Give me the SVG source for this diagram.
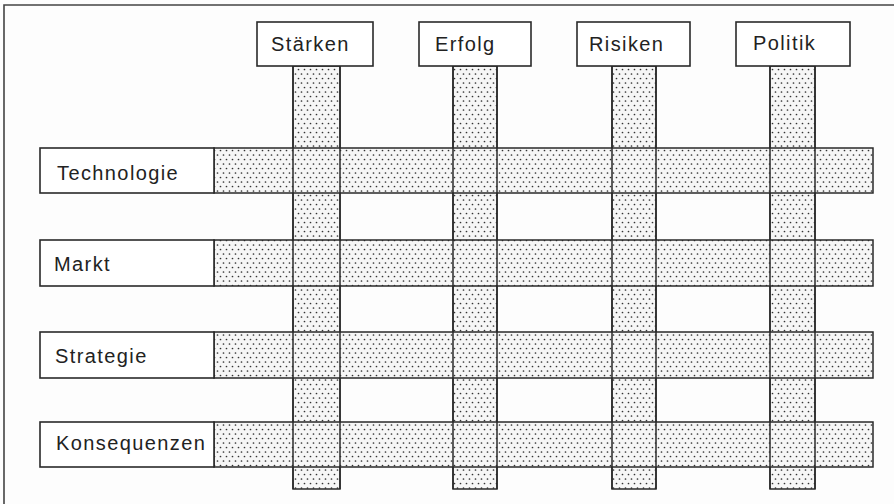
<svg xmlns="http://www.w3.org/2000/svg" width="894" height="504" viewBox="0 0 894 504">
<style>
.bg{fill:#fdfdfd}
.frame{stroke:#444;stroke-width:1.6;fill:none}
.box{fill:#fff;stroke:#2a2a2a;stroke-width:1.6}
.strip{fill:url(#dots);stroke:#2a2a2a;stroke-width:1.5}
.lbl{font-family:"Liberation Sans",Arial,sans-serif;font-size:20px;fill:#222;letter-spacing:1.4px}
</style>
<defs>
<pattern id="dots" width="6" height="9" patternUnits="userSpaceOnUse">
<rect width="6" height="9" fill="#f6f6f6"/>
<circle cx="1.5" cy="2" r="0.85" fill="#333"/>
<circle cx="4.5" cy="6.5" r="0.85" fill="#333"/>
</pattern>
</defs>
<rect class="bg" width="894" height="504"/>
<path class="frame" d="M4,504 V5 H894"/>
<g id="connectors">
<rect class="strip" x="293" y="66" width="47" height="423"/>
<rect class="strip" x="453" y="66" width="44" height="423"/>
<rect class="strip" x="612" y="66" width="44" height="423"/>
<rect class="strip" x="770" y="66" width="45" height="423"/>
<rect class="strip" x="214" y="148" width="659" height="45"/>
<rect class="strip" x="214" y="240" width="659" height="46"/>
<rect class="strip" x="214" y="332" width="659" height="46"/>
<rect class="strip" x="214" y="422" width="659" height="45"/>
<path d="M293,66 V489 M340,66 V489 M453,66 V489 M497,66 V489 M612,66 V489 M656,66 V489 M770,66 V489 M815,66 V489" stroke="#2a2a2a" stroke-width="1.5" fill="none"/>
</g>
<g id="col-staerken"><rect class="box" x="257" y="22" width="116" height="44"/><text class="lbl" x="271" y="51">Stärken</text></g>
<g id="col-erfolg"><rect class="box" x="419" y="22" width="112" height="44"/><text class="lbl" x="435" y="51">Erfolg</text></g>
<g id="col-risiken"><rect class="box" x="577" y="22" width="113" height="44"/><text class="lbl" x="589" y="51">Risiken</text></g>
<g id="col-politik"><rect class="box" x="736" y="22" width="114" height="44"/><text class="lbl" x="753" y="50">Politik</text></g>
<g id="row-technologie"><rect class="box" x="40" y="148" width="174" height="45"/><text class="lbl" x="57" y="180">Technologie</text></g>
<g id="row-markt"><rect class="box" x="40" y="240" width="174" height="46"/><text class="lbl" x="54" y="271">Markt</text></g>
<g id="row-strategie"><rect class="box" x="40" y="332" width="174" height="46"/><text class="lbl" x="55" y="363">Strategie</text></g>
<g id="row-konsequenzen"><rect class="box" x="40" y="422" width="174" height="45"/><text class="lbl" x="56" y="450">Konsequenzen</text></g>
</svg>
